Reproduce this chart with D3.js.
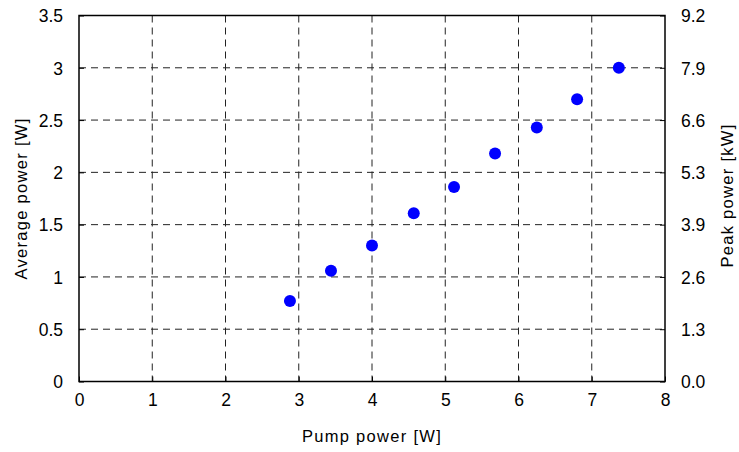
<!DOCTYPE html>
<html><head><meta charset="utf-8">
<script src="https://cdn.jsdelivr.net/npm/d3@7"></script>
<style>body{margin:0;background:#fff}svg{display:block}text{font-family:"Liberation Sans",Arial,sans-serif;fill:#000}</style>
</head><body>
<svg id="c" width="739" height="452"></svg>
<script>
const pumpPower = [2.88, 3.44, 4.0, 4.57, 5.12, 5.68, 6.25, 6.80, 7.37];
const averagePower = [0.77, 1.06, 1.30, 1.61, 1.86, 2.18, 2.43, 2.70, 3.00];
const xTicks = [0,1,2,3,4,5,6,7,8];
const yTicks = [0,0.5,1,1.5,2,2.5,3,3.5];
const yTickLabels = ["0","0.5","1","1.5","2","2.5","3","3.5"];
const peakTickLabels = ["0.0","1.3","2.6","3.9","5.3","6.6","7.9","9.2"];

const svg = d3.select("#c");
const L=79, R=665, T=15.5, B=381.5;
const x = d3.scaleLinear().domain([0,8]).range([L,R]);
const y = d3.scaleLinear().domain([0,3.5]).range([B,T]);

// grid
const g = svg.append("g");
g.selectAll("line.vx").data(xTicks.slice(1,-1)).join("line")
 .attr("x1",d=>x(d)).attr("x2",d=>x(d)).attr("y1",T).attr("y2",B)
 .attr("stroke","#222").attr("stroke-width",1).attr("stroke-dasharray","7,5");
g.selectAll("line.hy").data(yTicks.slice(1,-1)).join("line")
 .attr("y1",d=>y(d)).attr("y2",d=>y(d)).attr("x1",L).attr("x2",R)
 .attr("stroke","#222").attr("stroke-width",1).attr("stroke-dasharray","7,5");

// axes
const fs = 17.5;
const ax = svg.append("g").attr("transform",`translate(0,${B})`)
 .call(d3.axisBottom(x).tickValues(xTicks).tickSize(-5).tickPadding(12).tickFormat(d3.format("d")));
const ayl = svg.append("g").attr("transform",`translate(${L},0)`)
 .call(d3.axisLeft(y).tickValues(yTicks).tickSize(-5).tickPadding(16).tickFormat((d,i)=>yTickLabels[i]));
const ayr = svg.append("g").attr("transform",`translate(${R},0)`)
 .call(d3.axisRight(y).tickValues(yTicks).tickSize(-5).tickPadding(16).tickFormat((d,i)=>peakTickLabels[i]));
[ax,ayl,ayr].forEach(a=>{
  a.selectAll(".domain").remove();
  a.selectAll("text").attr("font-size",fs).attr("font-family","Liberation Sans, Arial, sans-serif").attr("fill","#000");
  a.selectAll(".tick line").attr("stroke","#000");
});
ayl.selectAll("text").attr("dy","0.36em");
ayr.selectAll("text").attr("dy","0.36em");

// frame
svg.append("rect").attr("x",L).attr("y",T).attr("width",R-L).attr("height",B-T)
 .attr("fill","none").attr("stroke","#000").attr("stroke-width",1.5);

// points
svg.append("g").selectAll("circle").data(pumpPower).join("circle")
 .attr("cx",d=>x(d)).attr("cy",(d,i)=>y(averagePower[i])).attr("r",6).attr("fill","#0000ff");

// titles
svg.append("text").attr("x",(L+R)/2).attr("y",442).attr("text-anchor","middle")
 .attr("font-size",16.5).attr("letter-spacing",1.3).text("Pump power [W]");
svg.append("text").attr("transform",`translate(27,${(T+B)/2}) rotate(-90)`).attr("text-anchor","middle")
 .attr("font-size",16.5).attr("letter-spacing",1.3).text("Average power [W]");
svg.append("text").attr("transform",`translate(733,${(T+B)/2-3}) rotate(-90)`).attr("text-anchor","middle")
 .attr("font-size",16.5).attr("letter-spacing",1.3).text("Peak power [kW]");
</script>
</body></html>
